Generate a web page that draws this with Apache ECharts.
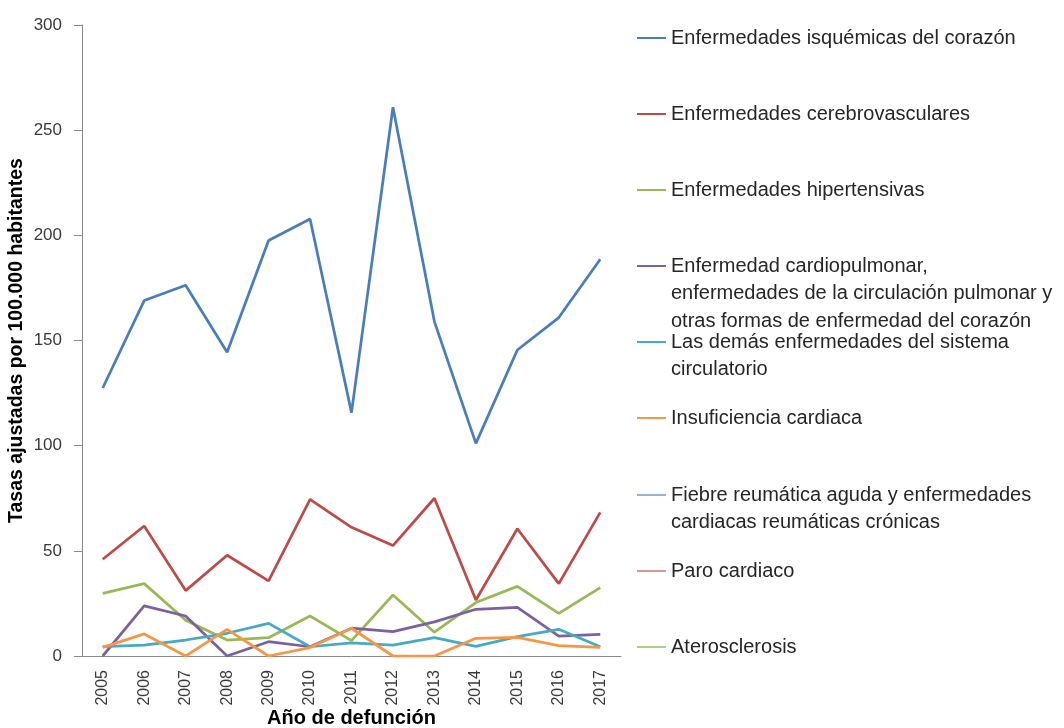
<!DOCTYPE html>
<html>
<head>
<meta charset="UTF-8">
<title>Tasas ajustadas</title>
<script src="https://cdn.jsdelivr.net/npm/echarts@6/dist/echarts.min.js"></script>
<style>
html,body{margin:0;padding:0;background:#fff;}
#chart{width:1064px;height:728px;}
</style>
</head>
<body>
<div id="chart"></div>
<script type="text/javascript">
// años del eje x
var years = ['2005','2006','2007','2008','2009','2010','2011','2012','2013','2014','2015','2016','2017'];

// tasas
var isquemicas = [127.4,169.0,176.3,144.4,197.5,207.8,115.7,260.9,159.0,101.1,145.5,160.9,188.6];
var cerebrovasculares = [46.0,61.8,31.1,47.9,35.7,74.5,61.2,52.5,75.0,26.6,60.5,34.4,68.3];
var hipertensivas = [29.8,34.4,17.0,7.6,8.7,19.0,7.3,29.0,11.3,25.4,33.1,20.3,32.5];
var cardiopulmonar = [0,23.8,19.0,0,6.8,4.4,13.2,11.6,16.2,22.2,23.1,9.5,10.3];
var demasCirculatorio = [4.4,5.2,7.6,10.8,15.5,4.4,6.2,5.2,8.7,4.6,9.2,12.7,4.4];
var insuficiencia = [4.1,10.5,0,12.7,0,4.0,13.2,0,0,8.4,8.9,4.9,4.1];
var fiebreReumatica = [];
var paroCardiaco = [];
var aterosclerosis = [];

var yTicks = [0,50,100,150,200,250,300];

// nombre, lineas de texto de la leyenda, color, datos, y del icono
var series = [
  ['Enfermedades isquémicas del corazón', ['Enfermedades isquémicas del corazón'], '#4a7ebb', isquemicas, 38],
  ['Enfermedades cerebrovasculares', ['Enfermedades cerebrovasculares'], '#be4b48', cerebrovasculares, 114],
  ['Enfermedades hipertensivas', ['Enfermedades hipertensivas'], '#98b954', hipertensivas, 190],
  ['Enfermedad cardiopulmonar', ['Enfermedad cardiopulmonar,', 'enfermedades de la circulación pulmonar y', 'otras formas de enfermedad del corazón'], '#7d60a0', cardiopulmonar, 266],
  ['Las demás enfermedades del sistema circulatorio', ['Las demás enfermedades del sistema', 'circulatorio'], '#46aac5', demasCirculatorio, 342],
  ['Insuficiencia cardiaca', ['Insuficiencia cardiaca'], '#f79646', insuficiencia, 418],
  ['Fiebre reumática aguda', ['Fiebre reumática aguda y enfermedades', 'cardiacas reumáticas crónicas'], '#95b3d7', fiebreReumatica, 495],
  ['Paro cardiaco', ['Paro cardiaco'], '#d99694', paroCardiaco, 571],
  ['Aterosclerosis', ['Aterosclerosis'], '#b3cc85', aterosclerosis, 647]
];

var FONT = 'Liberation Sans, Arial, sans-serif';
var txtColor = '#262626';
var legends = [], seriesList = [], extras = [];
series.forEach(function(s){
  var lines = s[1];
  legends.push({
    left: 637, top: s[4] - 10, padding: 0,
    icon: 'rect', itemWidth: 29, itemHeight: 2,
    data: [s[0]],
    formatter: function(){ return lines[0]; },
    textStyle: {fontFamily: FONT, fontSize: 20, color: txtColor}
  });
  // lineas siguientes del texto de la leyenda
  for (var i = 1; i < lines.length; i++) {
    extras.push({
      type: 'text', left: 671, top: s[4] + 27.5 * i - 10,
      style: {text: lines[i], fontFamily: FONT, fontSize: 20, fill: txtColor}
    });
  }
  seriesList.push({
    name: s[0], type: 'line', data: s[3],
    symbol: 'none', color: s[2],
    lineStyle: {width: 2.75, color: s[2]},
    itemStyle: {color: s[2]}
  });
});

var mychart = echarts.init(document.getElementById('chart'));
var option = {
  animation: false,
  backgroundColor: '#fff',
  grid: {left: 82, right: 443, top: 25, bottom: 72, containLabel: false, outerBoundsMode: 'none'},
  legend: legends,
  graphic: extras,
  xAxis: {
    type: 'category', data: years,
    name: 'Año de defunción', nameLocation: 'middle', nameGap: 52, nameMoveOverlap: false,
    nameTextStyle: {fontFamily: FONT, fontSize: 20, fontWeight: 'bold', color: '#000'},
    axisLine: {lineStyle: {color: '#898989', width: 1}},
    axisTick: {length: 5, lineStyle: {color: '#898989'}},
    axisLabel: {rotate: 90, margin: 14, fontFamily: FONT, fontSize: 16, color: '#3a3a3a'}
  },
  yAxis: {
    type: 'value', min: yTicks[0], max: yTicks[yTicks.length - 1], interval: 50,
    name: 'Tasas ajustadas por 100.000 habitantes', nameLocation: 'middle', nameGap: 55, nameMoveOverlap: false,
    nameTextStyle: {fontFamily: FONT, fontSize: 19.5, fontWeight: 'bold', color: '#000'},
    axisLine: {show: true, lineStyle: {color: '#898989', width: 1}},
    axisTick: {show: true, length: 8, lineStyle: {color: '#898989'}},
    splitLine: {show: false},
    axisLabel: {margin: 20, fontFamily: FONT, fontSize: 17, color: '#3a3a3a'}
  },
  series: seriesList
};
mychart.setOption(option);
</script>
</body>
</html>
